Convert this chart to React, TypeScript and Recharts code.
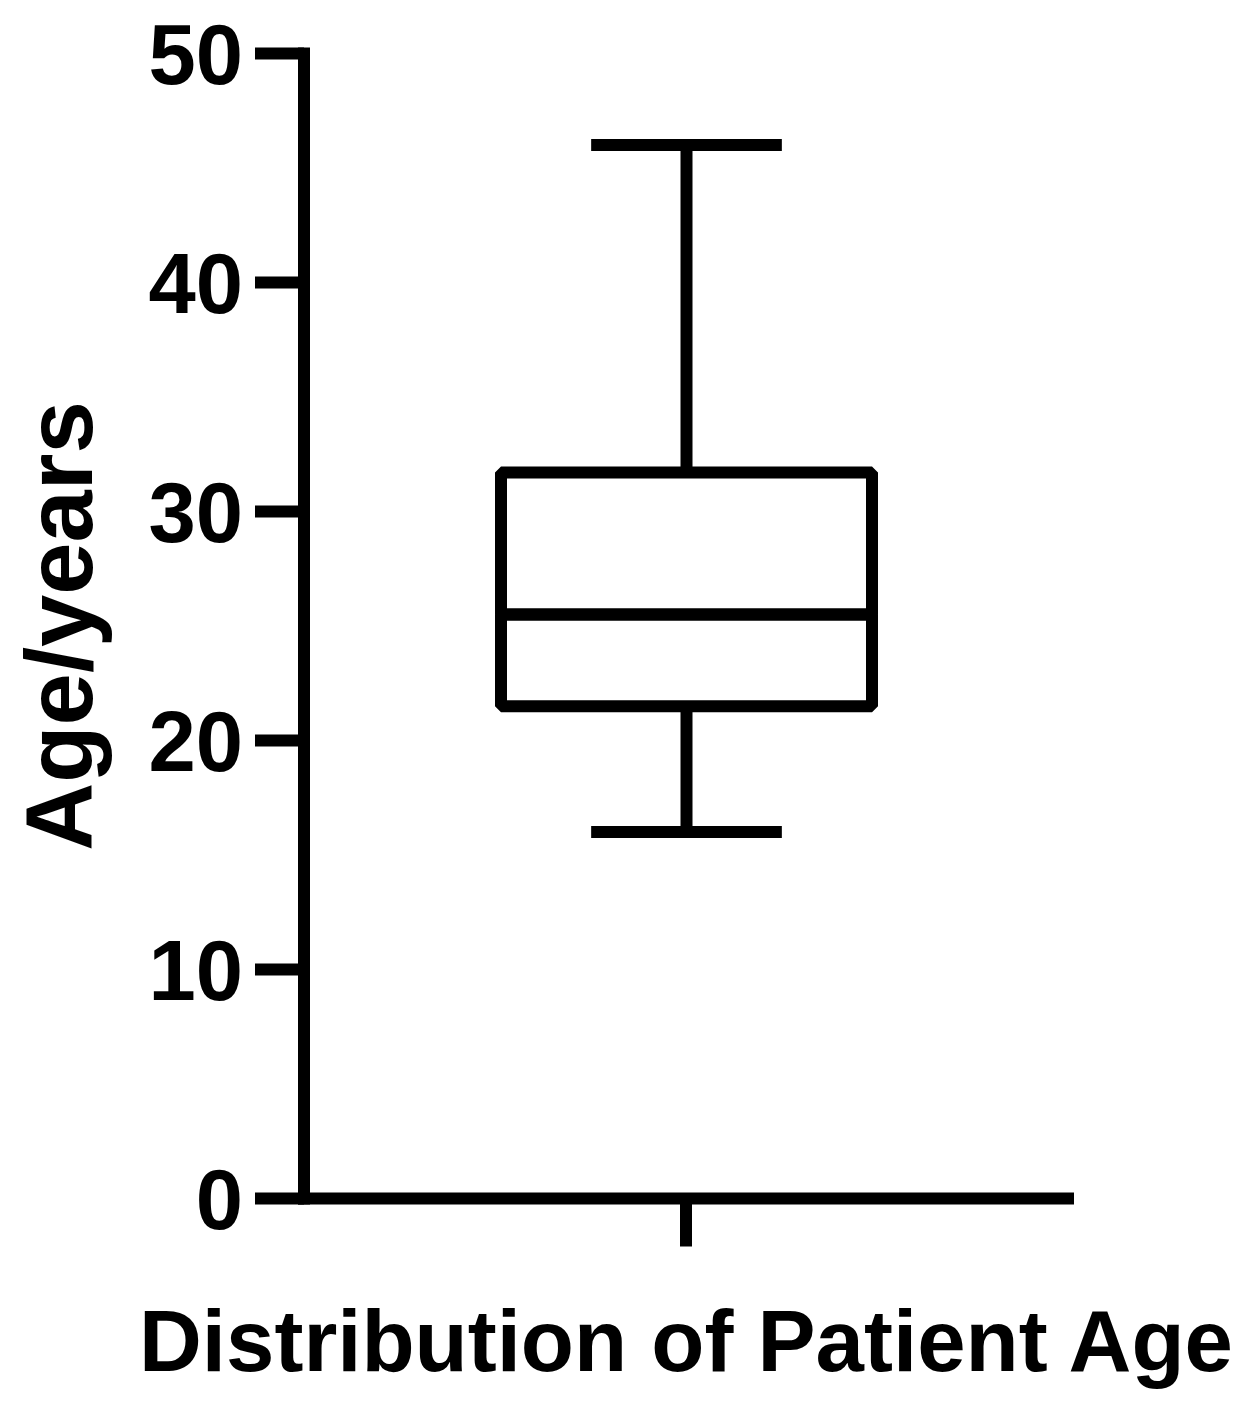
import React from "react";
import { ComposedChart, Bar, XAxis, YAxis } from "recharts";

// box plot summary
const categories = ["Distribution of Patient Age"];
const minAge = [16];
const q1Age = [21.5];
const medianAge = [25.5];
const q3Age = [31.7];
const maxAge = [46];
const yTicks = [0, 10, 20, 30, 40, 50];

const FONT = "'Liberation Sans', Arial, Helvetica, sans-serif";
const LINE = 12;

// stacked segments so each piece is positioned by the y scale
const chartData = categories.map((name, i) => ({
  name,
  base: minAge[i],
  lowerWhisker: q1Age[i] - minAge[i],
  lowerBox: medianAge[i] - q1Age[i],
  upperBox: q3Age[i] - medianAge[i],
  upperWhisker: maxAge[i] - q3Age[i],
}));

const Empty = () => <g />;

const LowerWhisker = (props: any) => {
  const { x, y, width, height } = props;
  const cx = x + width / 2;
  const cap = width * 0.257;
  return (
    <g stroke="#000" strokeWidth={LINE}>
      <line x1={cx} y1={y} x2={cx} y2={y + height} />
      <line x1={cx - cap} y1={y + height} x2={cx + cap} y2={y + height} />
    </g>
  );
};

const UpperWhisker = (props: any) => {
  const { x, y, width, height } = props;
  const cx = x + width / 2;
  const cap = width * 0.257;
  return (
    <g stroke="#000" strokeWidth={LINE}>
      <line x1={cx} y1={y + height} x2={cx} y2={y} />
      <line x1={cx - cap} y1={y} x2={cx + cap} y2={y} />
    </g>
  );
};

const BoxPart = (props: any) => {
  const { x, y, width, height } = props;
  return (
    <rect
      x={x}
      y={y}
      width={width}
      height={height}
      fill="none"
      stroke="#000"
      strokeWidth={LINE}
      strokeLinejoin="bevel"
    />
  );
};

export default function App() {
  return (
    <div style={{ position: "absolute", left: 0, top: 0, background: "#fff" }}>
      <ComposedChart
        width={1248}
        height={1409}
        data={chartData}
        margin={{ top: 53.5, right: 180, bottom: 0, left: 0 }}
      >
        <XAxis
          dataKey="name"
          height={210.5}
          axisLine={{ stroke: "#000", strokeWidth: LINE, strokeLinecap: "square" }}
          tickLine={{ stroke: "#000", strokeWidth: LINE }}
          tickSize={48}
          tickFormatter={() => ""}
          label={{
            value: "Distribution of Patient Age",
            position: "insideBottom",
            offset: 38,
            style: {
              fontFamily: FONT,
              fontWeight: "bold",
              fontSize: 87,
              fill: "#000",
            },
          }}
        />
        <YAxis
          type="number"
          domain={[0, 50]}
          ticks={yTicks}
          width={304}
          axisLine={{ stroke: "#000", strokeWidth: LINE, strokeLinecap: "square" }}
          tickLine={{ stroke: "#000", strokeWidth: LINE }}
          tickSize={49}
          tickMargin={12}
          tick={{ fontFamily: FONT, fontWeight: "bold", fontSize: 85, fill: "#000" }}
          label={{
            value: "Age/years",
            angle: -90,
            position: "insideLeft",
            offset: 59,
            style: {
              textAnchor: "middle",
              fontFamily: FONT,
              fontWeight: "bold",
              fontSize: 94,
              fill: "#000",
            },
          }}
        />
        <Bar dataKey="base" stackId="box" barSize={371} shape={<Empty />} isAnimationActive={false} />
        <Bar dataKey="lowerWhisker" stackId="box" barSize={371} shape={<LowerWhisker />} isAnimationActive={false} />
        <Bar dataKey="lowerBox" stackId="box" barSize={371} shape={<BoxPart />} isAnimationActive={false} />
        <Bar dataKey="upperBox" stackId="box" barSize={371} shape={<BoxPart />} isAnimationActive={false} />
        <Bar dataKey="upperWhisker" stackId="box" barSize={371} shape={<UpperWhisker />} isAnimationActive={false} />
      </ComposedChart>
    </div>
  );
}
